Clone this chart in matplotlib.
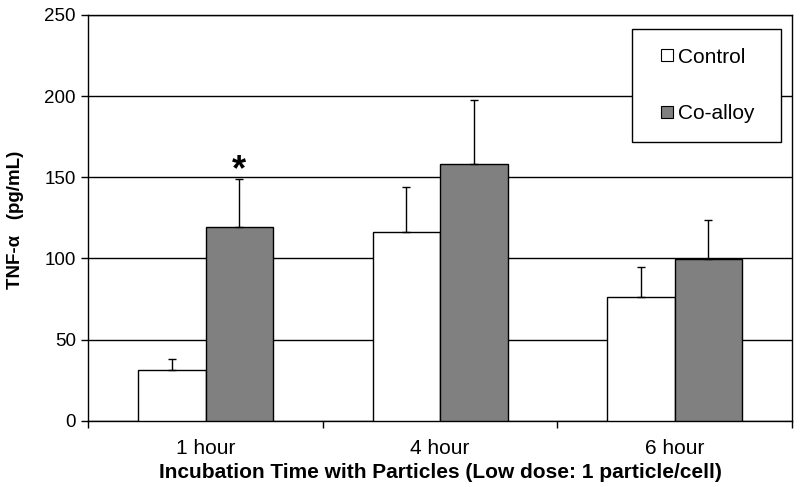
import numpy as np
import matplotlib
matplotlib.use('Agg')
import matplotlib.pyplot as plt
from matplotlib.lines import Line2D

plt.rcParams['font.family'] = ['Liberation Sans', 'DejaVu Sans']

# DATA
categories = ['1 hour', '4 hour', '6 hour']
series = ['Control', 'Co-alloy']
control = [31, 116, 76.5]
control_err = [7, 28, 18.5]
coalloy = [119.5, 158, 99.5]
coalloy_err = [29.5, 39.5, 24]
colors = ['white', '#808080']

fig = plt.figure(figsize=(8, 4.87), dpi=100)
ax = fig.add_axes([0.1104, 0.1361, 0.8796, 0.8331])

x = np.arange(len(categories))
w = 0.288
err_kw = dict(ecolor='black', elinewidth=1, capsize=2.9, capthick=1)

ax.bar(x - w/2, control, w, color=colors[0], edgecolor='black', linewidth=1,
       yerr=[np.zeros(3), control_err], error_kw=err_kw, zorder=3)
ax.bar(x + w/2, coalloy, w, color=colors[1], edgecolor='black', linewidth=1,
       yerr=[np.zeros(3), coalloy_err], error_kw=err_kw, zorder=3)

# significance marker above 1 hour Co-alloy
ax.text(x[0] + w/2, coalloy[0] + coalloy_err[0] - 1, '*', ha='center', va='baseline',
        fontsize=26, fontweight='bold')

ax.set_xlim(-0.5, 2.5)
ax.set_ylim(0, 250)
ax.set_yticks(np.arange(0, 251, 50))
ax.yaxis.grid(True, color='black', linewidth=1)
ax.set_axisbelow(True)

ax.set_xticks(x)
ax.set_xticklabels(categories, fontsize=15)
ax.set_xticks([-0.5, 0.5, 1.5, 2.5], minor=True)
ax.tick_params(axis='x', which='major', length=0, pad=13.4)
ax.tick_params(axis='x', which='minor', length=5, direction='out', width=1)
ax.tick_params(axis='y', length=5, direction='out', width=1, labelsize=13.5, pad=4)

for s in ax.spines.values():
    s.set_linewidth(1)
    s.set_color('black')

ax.set_xlabel('Incubation Time with Particles (Low dose: 1 particle/cell)',
              fontsize=15, fontweight='bold')
ax.xaxis.set_label_coords(0.5, -0.1043)
ax.set_ylabel('TNF-\u03b1   (pg/mL)', fontsize=13.5, fontweight='bold', va='center')
ax.yaxis.set_label_coords(-0.1035, 0.495)

handles = [Line2D([], [], marker='s', ls='none', markersize=8.6, markerfacecolor=c,
                  markeredgecolor='black', markeredgewidth=0.8) for c in colors]
leg = ax.legend(handles, series, loc='upper left', mode='expand',
                bbox_to_anchor=(0.7727, 0.5, 0.2117, 0.4655), borderaxespad=0,
                fontsize=15, frameon=True, fancybox=False, labelspacing=1.8,
                borderpad=0.9, handlelength=1.51, handletextpad=-0.2)
leg.get_frame().set_edgecolor('black')
leg.get_frame().set_linewidth(1)
leg.get_frame().set_alpha(1)

fig.savefig('out.png', dpi=100)
